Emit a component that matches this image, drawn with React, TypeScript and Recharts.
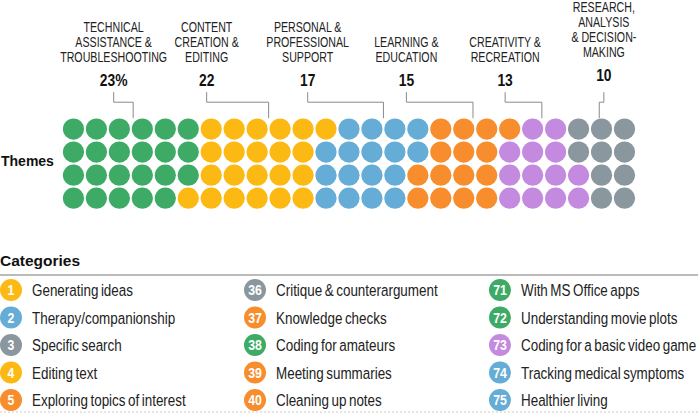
import { ScatterChart, Scatter, XAxis, YAxis, ReferenceLine } from 'recharts'

// themes, in the order they are laid out left to right
const themeLabelLines = [
  ['TECHNICAL', 'ASSISTANCE &', 'TROUBLESHOOTING'],
  ['CONTENT', 'CREATION &', 'EDITING'],
  ['PERSONAL &', 'PROFESSIONAL', 'SUPPORT'],
  ['LEARNING &', 'EDUCATION'],
  ['CREATIVITY &', 'RECREATION'],
  ['RESEARCH,', 'ANALYSIS', '& DECISION-', 'MAKING'],
]
const themeShares = [23, 22, 17, 15, 13, 10]
// column (1..25) where each label sits and where its leader line drops into the dots
const themeLabelCol = [2.75, 6.8, 11.2, 15.5, 19.8, 24.1]
const themePointerCol = [3.6, 9.5, 14.5, 18.4, 21.4, 23.9]

// 4 rows x 25 dots, one digit = theme index
const waffleRows = [
  '0000001111112222333344555',
  '0000001111122222333444555',
  '0000001111122223333444455',
  '0000011111122223333444455',
]

const categoryRanks = [1, 2, 3, 4, 5, 36, 37, 38, 39, 40, 71, 72, 73, 74, 75]
const categoryNames = [
  'Generating ideas',
  'Therapy/companionship',
  'Specific search',
  'Editing text',
  'Exploring topics of interest',
  'Critique & counterargument',
  'Knowledge checks',
  'Coding for amateurs',
  'Meeting summaries',
  'Cleaning up notes',
  'With MS Office apps',
  'Understanding movie plots',
  'Coding for a basic video game',
  'Tracking medical symptoms',
  'Healthier living',
]
const categoryTheme = [1, 2, 5, 1, 3, 5, 3, 0, 3, 3, 0, 0, 4, 2, 2]

const THEME_COLORS = ['#3dab66', '#fdb913', '#65acd6', '#f78d2d', '#c38ae0', '#8b979e']
const SANS = '"Liberation Sans", Arial, sans-serif'
const LINE = '#8a8a8a'

const NUMBER_ROW = -1.12
const ELBOW_ROW = -0.165
const TOP_ROW = -0.6
const BOTTOM_ROW = 0.53

const dots = waffleRows.flatMap((row, r) =>
  row.split('').map((c, i) => ({ x: i + 1, y: r + 1, theme: Number(c) }))
)

const annotations = themeShares.map((share, i) => ({
  x: themeLabelCol[i],
  y: NUMBER_ROW,
  share: i === 0 ? `${share}%` : `${share}`,
  lines: themeLabelLines[i],
}))

// condensed look: Liberation Sans squeezed horizontally
function Narrow({ x, y, sx = 0.82, anchor = 'start', size, weight = 400, fill = '#222', ws = 0, children }: any) {
  return (
    <text
      transform={`translate(${x},${y}) scale(${sx},1)`}
      textAnchor={anchor}
      fontFamily={SANS}
      fontSize={size}
      fontWeight={weight}
      fill={fill}
      wordSpacing={ws}
    >
      {children}
    </text>
  )
}

const Dot = (props: any) => (
  <circle cx={props.cx} cy={props.cy} r={10.6} fill={THEME_COLORS[props.payload.theme]} />
)

const Annotation = (props: any) => {
  const { cx, cy, payload } = props
  const n = payload.lines.length
  const shift = n > 3 ? -5 : 0
  return (
    <g>
      <Narrow x={cx} y={cy + shift + 6} anchor="middle" size={16.5} weight={700} sx={0.84} fill="#111">
        {payload.share}
      </Narrow>
      {payload.lines.map((l: string, k: number) => (
        <Narrow key={k} x={cx} y={cy + shift - 18 - (n - 1 - k) * 15} anchor="middle" size={14} sx={0.76}>
          {l}
        </Narrow>
      ))}
    </g>
  )
}

function Legend() {
  return (
    <svg width={698} height={174} style={{ position: 'absolute', left: 0, top: 240, display: 'block' }}>
      <text x={0} y={26} fontFamily={SANS} fontWeight={700} fontSize={15.5} fill="#111">
        Categories
      </text>
      <line x1={0} x2={698} y1={35} y2={35} stroke="#a5a5a5" strokeWidth={1.5} />
      {categoryNames.map((name, i) => {
        const col = Math.floor(i / 5)
        const row = i % 5
        const x0 = [0, 244, 489][col]
        const y = 50 + row * 27.5
        return (
          <g key={name}>
            <circle cx={x0 + 11} cy={y} r={11} fill={THEME_COLORS[categoryTheme[i]]} />
            <Narrow x={x0 + 11} y={y + 5} anchor="middle" size={14} weight={700} sx={0.88} fill="#fff">
              {categoryRanks[i]}
            </Narrow>
            <Narrow x={x0 + 32} y={y + 6} size={17} sx={0.79} ws={-1.5}>
              {name}
            </Narrow>
          </g>
        )
      })}
      <line x1={0} x2={698} y1={172} y2={172} stroke="#ccc" strokeDasharray="2 2" />
    </svg>
  )
}

export default function App() {
  return (
    <div style={{ width: 698, height: 414, position: 'relative', background: '#fff' }}>
      <style>{'body{margin:0}'}</style>
      <div style={{ position: 'absolute', left: 1, top: 153, fontFamily: SANS, fontWeight: 700, fontSize: 14, color: '#111' }}>
        Themes
      </div>
      <ScatterChart width={698} height={212} margin={{ top: 0, right: 62, bottom: 0, left: 62 }}>
        <XAxis type="number" dataKey="x" domain={[0.5, 25.5]} hide />
        <YAxis type="number" dataKey="y" domain={[-4.6, 4.6]} reversed hide />
        {themeShares.map((_, i) => (
          <ReferenceLine
            key={`v${i}`}
            segment={[{ x: themeLabelCol[i], y: TOP_ROW }, { x: themeLabelCol[i], y: ELBOW_ROW }]}
            stroke={LINE}
          />
        ))}
        {themeShares.map((_, i) => (
          <ReferenceLine
            key={`h${i}`}
            segment={[{ x: themeLabelCol[i], y: ELBOW_ROW }, { x: themePointerCol[i], y: ELBOW_ROW }]}
            stroke={LINE}
          />
        ))}
        {themeShares.map((_, i) => (
          <ReferenceLine
            key={`d${i}`}
            segment={[{ x: themePointerCol[i], y: ELBOW_ROW }, { x: themePointerCol[i], y: BOTTOM_ROW }]}
            stroke={LINE}
          />
        ))}
        <Scatter data={dots} shape={Dot} isAnimationActive={false} />
        <Scatter data={annotations} shape={Annotation} isAnimationActive={false} />
      </ScatterChart>
      <Legend />
    </div>
  )
}
